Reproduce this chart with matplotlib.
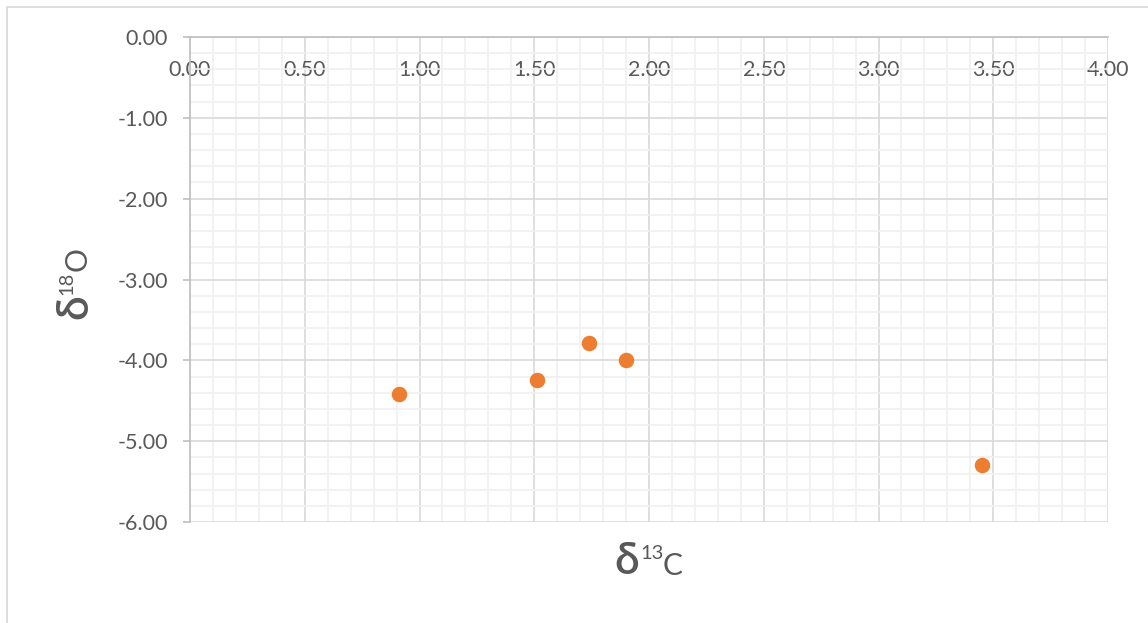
import matplotlib.pyplot as plt
from matplotlib.patches import Rectangle
from matplotlib.ticker import MultipleLocator

plt.rcParams['font.family'] = ['Lato', 'DejaVu Sans']

# isotope values
d13c = [0.91, 1.51, 1.74, 1.90, 3.45]
d18o = [-4.42, -4.24, -3.79, -3.99, -5.30]

W, H = 1148, 623
fig = plt.figure(figsize=(W / 100, H / 100), dpi=100)
ax = fig.add_axes([190/W, 1 - 522/H, 918/W, 485/H])

# light frame around the whole chart
fig.patches.append(Rectangle((7/W, -0.05), 1.1, 1 - 7/H + 0.05,
                             transform=fig.transFigure, fill=False,
                             edgecolor='#d9d9d9', linewidth=1.2))

ax.scatter(d13c, d18o, s=125, color='#ED7D31', zorder=3, linewidths=0)

ax.set_xlim(0, 4)
ax.set_ylim(-6, 0)
ax.xaxis.set_major_locator(MultipleLocator(0.5))
ax.xaxis.set_minor_locator(MultipleLocator(0.1))
ax.yaxis.set_major_locator(MultipleLocator(1))
ax.yaxis.set_minor_locator(MultipleLocator(0.2))
ax.xaxis.set_major_formatter(lambda v, p: f'{v:.2f}')
ax.yaxis.set_major_formatter(lambda v, p: f'{v:.2f}')

ax.grid(which='major', color='#d9d9d9', linewidth=1.2)
ax.grid(which='minor', color='#f0f0f0', linewidth=1.2)
ax.set_axisbelow(True)

for s in ['right', 'bottom']:
    ax.spines[s].set_visible(False)
for s in ['left', 'top']:
    ax.spines[s].set_color('#bfbfbf')
    ax.spines[s].set_linewidth(1.2)

ax.xaxis.set_ticks_position('top')
ax.tick_params(axis='x', which='both', length=0, labeltop=True, labelbottom=False,
               pad=-31, labelsize=15.5, labelcolor='#595959')
ax.tick_params(axis='y', which='major', length=5, color='#bfbfbf', width=1.2,
               pad=11, labelsize=15.5, labelcolor='#595959')
ax.tick_params(axis='y', which='minor', length=0)


def px(x, y):
    return x / W, 1 - y / H


# axis titles built from pieces: big delta, superscript mass number, element
lab = dict(color='#595959', rotation_mode='anchor', ha='left', va='baseline')
fig.text(*px(614, 574), 'δ', fontsize=32, fontweight='semibold', **lab)
fig.text(*px(640, 559), '13', fontsize=14.5, **lab)
fig.text(*px(663, 575), 'C', fontsize=21.5, **lab)

fig.text(*px(87, 319), 'δ', fontsize=32, fontweight='semibold', rotation=90, **lab)
fig.text(*px(72, 295), '18', fontsize=14.5, rotation=90, **lab)
fig.text(*px(87, 271), 'O', fontsize=21.5, rotation=90, **lab)

fig.savefig('out.png', dpi=100)
